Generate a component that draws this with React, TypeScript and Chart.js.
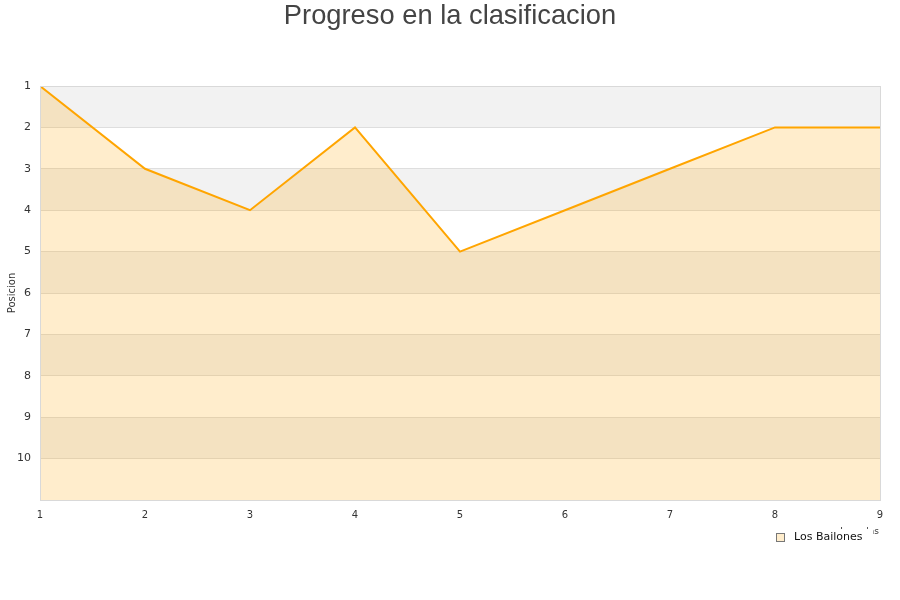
import React, { useEffect, useRef } from "react";
import { Chart, registerables } from "chart.js";

Chart.register(...registerables);

const jornadas = [1, 2, 3, 4, 5, 6, 7, 8, 9];
const posiciones = [1, 3, 4, 2, 5, 4, 3, 2, 2];
const teamName = "Los Bailones";
const chartTitle = "Progreso en la clasificacion";
const yTitle = "Posicion";
const xTitle = "Jornadas";
const yMin = 1;
const yMax = 11;

const bandsPlugin = {
  id: "bands",
  beforeDraw(chart: any) {
    const { ctx, chartArea, scales } = chart;
    const y = scales.y;
    ctx.save();
    for (let v = yMin; v < yMax; v++) {
      if ((v - yMin) % 2 === 0) {
        const top = y.getPixelForValue(v);
        const bot = y.getPixelForValue(v + 1);
        ctx.fillStyle = "#f2f2f2";
        ctx.fillRect(chartArea.left, top, chartArea.right - chartArea.left, bot - top);
      }
    }
    // title centred on the canvas
    ctx.font = "27.3px 'Liberation Sans', Arial";
    ctx.fillStyle = "#444";
    ctx.textAlign = "center";
    ctx.textBaseline = "middle";
    ctx.fillText(chartTitle, chart.width / 2, 16);
    ctx.restore();
  },
  afterDraw(chart: any) {
    const { ctx, chartArea } = chart;
    ctx.save();
    ctx.strokeStyle = "#d9d9d9";
    ctx.lineWidth = 1;
    ctx.strokeRect(
      Math.round(chartArea.left) + 0.5,
      Math.round(chartArea.top) + 0.5,
      Math.round(chartArea.right - chartArea.left),
      Math.round(chartArea.bottom - chartArea.top)
    );
    // cut-off x-axis title behind the legend
    ctx.font = "9px 'DejaVu Sans'";
    ctx.fillStyle = "#333";
    ctx.textAlign = "right";
    ctx.textBaseline = "alphabetic";
    ctx.fillText(xTitle, chartArea.right - 1, chartArea.bottom + 34);
    // legend box
    const ds = chart.data.datasets[0];
    ctx.fillStyle = "#ffffff";
    ctx.fillRect(chartArea.right - 112, chartArea.bottom + 29, 105, 22);
    ctx.fillStyle = "#ffedcc";
    ctx.fillRect(chartArea.right - 103.5, chartArea.bottom + 33.5, 8, 8);
    ctx.strokeStyle = "#777";
    ctx.strokeRect(chartArea.right - 103.5, chartArea.bottom + 33.5, 8, 8);
    ctx.font = "11px 'DejaVu Sans'";
    ctx.fillStyle = "#111";
    ctx.textAlign = "left";
    ctx.textBaseline = "middle";
    ctx.fillText(ds.label, chartArea.right - 86, chartArea.bottom + 37.5);
    ctx.restore();
  },
};

export default function App() {
  const ref = useRef<HTMLCanvasElement>(null);
  useEffect(() => {
    if (!ref.current) return;
    const chart = new Chart(ref.current, {
      type: "line",
      data: {
        datasets: [
          {
            label: teamName,
            data: jornadas.map((j, i) => ({ x: j, y: posiciones[i] })),
            borderColor: "#ffa500",
            backgroundColor: "rgba(255,165,0,0.2)",
            borderWidth: 2,
            pointRadius: 0,
            fill: { value: yMax },
            tension: 0,
          } as any,
        ],
      },
      options: {
        animation: false,
        responsive: true,
        maintainAspectRatio: false,
        layout: { padding: { left: 2, right: 20, bottom: 70, top: 86 } },
        plugins: {
          legend: { display: false },
          tooltip: { enabled: false },
          title: { display: false },
        },
        scales: {
          x: {
            type: "linear",
            min: 1,
            max: 9,
            ticks: {
              stepSize: 1,
              color: "#333",
              font: { family: "'DejaVu Sans'", size: 10 },
              padding: 9,
            },
            grid: { display: false, drawTicks: false },
            border: { display: false },
          },
          y: {
            type: "linear",
            reverse: true,
            min: yMin,
            max: yMax,
            afterBuildTicks: (axis: any) => {
              axis.ticks = axis.ticks.filter((t: any) => t.value < yMax);
            },
            afterFit: (axis: any) => {
              axis.width = 38;
            },
            ticks: {
              stepSize: 1,
              color: "#333",
              font: { family: "'DejaVu Sans'", size: 11 },
              padding: 9,
            },
            grid: { color: "#dedede", drawTicks: false },
            border: { display: false },
            title: {
              display: true,
              text: yTitle,
              color: "#333",
              font: { family: "'DejaVu Sans'", size: 10 },
              padding: { top: 4, bottom: 2 },
            },
          },
        },
      },
      plugins: [bandsPlugin],
    });
    return () => chart.destroy();
  }, []);
  return (
    <div style={{ position: "absolute", left: 0, top: 0, width: 900, height: 600, background: "#fff" }}>
      <canvas ref={ref} />
    </div>
  );
}
